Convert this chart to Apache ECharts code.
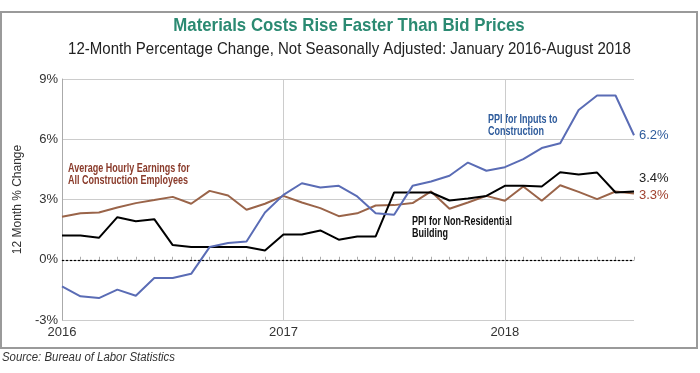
<!DOCTYPE html>
<html><head><meta charset="utf-8">
<script src="https://cdn.jsdelivr.net/npm/echarts@6/dist/echarts.min.js"></script>
<style>html,body{margin:0;padding:0;background:#fff}#c{width:700px;height:373px}</style>
</head><body><div id="c"></div>
<script>
const months = [];
for (let y = 2016; y <= 2018; y++) for (let m = 1; m <= 12; m++) { if (y === 2018 && m > 8) break; months.push(y + '-' + String(m).padStart(2, '0')); }
const yTicks = [-3, 0, 3, 6, 9];
const ppiInputs = [-1.33,-1.82,-1.91,-1.49,-1.79,-0.91,-0.91,-0.70,0.63,0.83,0.91,2.35,
  3.23,3.81,3.60,3.68,3.15,2.32,2.24,3.68,3.90,4.18,4.84,4.43,
  4.61,5.01,5.56,5.80,7.46,8.18,8.18,6.2];
const ppiNonRes = [1.21,1.21,1.09,2.12,1.92,2.02,0.73,0.63,0.63,0.63,0.63,0.46,
  1.26,1.26,1.46,1.00,1.16,1.16,3.35,3.35,3.35,2.95,3.05,3.18,
  3.68,3.68,3.65,4.36,4.25,4.34,3.35,3.4];
const earnings = [2.14,2.31,2.35,2.60,2.82,2.97,3.13,2.79,3.43,3.20,2.49,2.79,
  3.18,2.85,2.57,2.17,2.31,2.70,2.72,2.82,3.40,2.54,2.85,3.18,
  2.94,3.65,2.94,3.71,3.38,3.02,3.40,3.3];

const FONT = '"Liberation Sans",Arial,sans-serif';
const chart = echarts.init(document.getElementById('c'), null, {renderer: 'canvas'});
const endLbl = (color, dy) => ({show: true, formatter: p => p.value.toFixed(1) + '%', color: color, fontFamily: FONT, fontSize: 13, distance: 5, offset: [0, dy]});
const txt = (x, y, text, fill, font, sx, align, lh) => ({type: 'text', x: x, y: y, scaleX: sx, silent: true,
  style: {text: text, fill: fill, font: font, textAlign: align || 'left', textVerticalAlign: 'top', lineHeight: lh || 12}});
chart.setOption({
  animation: false,
  textStyle: {fontFamily: FONT},
  grid: {left: 62, right: 66, top: 79, bottom: 53},
  xAxis: {
    type: 'category', data: months, boundaryGap: false,
    axisLine: {show: true, lineStyle: {color: '#aaa', width: 1}},
    axisTick: {show: true, inside: true, length: 3, interval: 0, lineStyle: {color: '#aaa'}},
    axisLabel: {interval: (i) => i % 12 === 0, formatter: v => v.slice(0, 4), color: '#333', fontSize: 13, margin: 6, fontFamily: FONT},
    splitLine: {show: true, interval: (i) => i === 12 || i === 24, lineStyle: {color: '#ccc', width: 1}}
  },
  yAxis: {
    type: 'value', min: yTicks[0], max: yTicks[yTicks.length - 1], interval: 3,
    name: '12 Month % Change', nameLocation: 'middle', nameGap: 29, nameRotate: 90,
    nameTextStyle: {color: '#333', fontSize: 12, fontFamily: FONT},
    axisLine: {show: true, lineStyle: {color: '#aaa'}},
    axisTick: {show: false},
    axisLabel: {formatter: v => v + '%', color: '#333', fontSize: 13, margin: 4, fontFamily: FONT},
    splitLine: {show: true, lineStyle: {color: '#ccc', width: 1}}
  },
  series: [
    {name: 'Average Hourly Earnings for All Construction Employees', type: 'line', data: earnings, symbol: 'none',
     lineStyle: {color: '#9a6449', width: 2}, itemStyle: {color: '#9a6449'}, endLabel: endLbl('#a0412f', 2),
     markLine: {silent: true, symbol: 'none', label: {show: false}, lineStyle: {color: '#000', type: [2, 2], width: 1.2}, data: [{yAxis: 0}]}},
    {name: 'PPI for Non-Residential Building', type: 'line', data: ppiNonRes, symbol: 'none',
     lineStyle: {color: '#000', width: 2}, itemStyle: {color: '#000'}, endLabel: endLbl('#222', -13)},
    {name: 'PPI for Inputs to Construction', type: 'line', data: ppiInputs, symbol: 'none',
     lineStyle: {color: '#5a6cb5', width: 2}, itemStyle: {color: '#5a6cb5'}, endLabel: endLbl('#2f5c9c', 0)}
  ],
  graphic: [
    {type: 'rect', shape: {x: 1, y: 12, width: 696, height: 336}, style: {fill: 'none', stroke: '#9a9a9a', lineWidth: 2}, z: -1, silent: true},
    txt(349, 20, 'Materials Costs Rise Faster Than Bid Prices', '#2b8a72', 'bold 19px ' + FONT, 0.885, 'center'),
    txt(349.5, 43, '12-Month Percentage Change, Not Seasonally Adjusted: January 2016-August 2018', '#222', '17px ' + FONT, 0.885, 'center'),
    txt(68, 162, 'Average Hourly Earnings for\nAll Construction Employees', '#8a3b2b', 'bold 12px ' + FONT, 0.75, 'left', 12.5),
    txt(488, 113, 'PPI for Inputs to\nConstruction', '#2f5c9c', 'bold 12px ' + FONT, 0.75, 'left', 12.5),
    txt(412, 215, 'PPI for Non-Residential\nBuilding', '#111', 'bold 12px ' + FONT, 0.75, 'left', 12.5),
    txt(2, 352, 'Source: Bureau of Labor Statistics', '#333', 'italic 12px ' + FONT, 0.95, 'left')
  ]
});
</script></body></html>
